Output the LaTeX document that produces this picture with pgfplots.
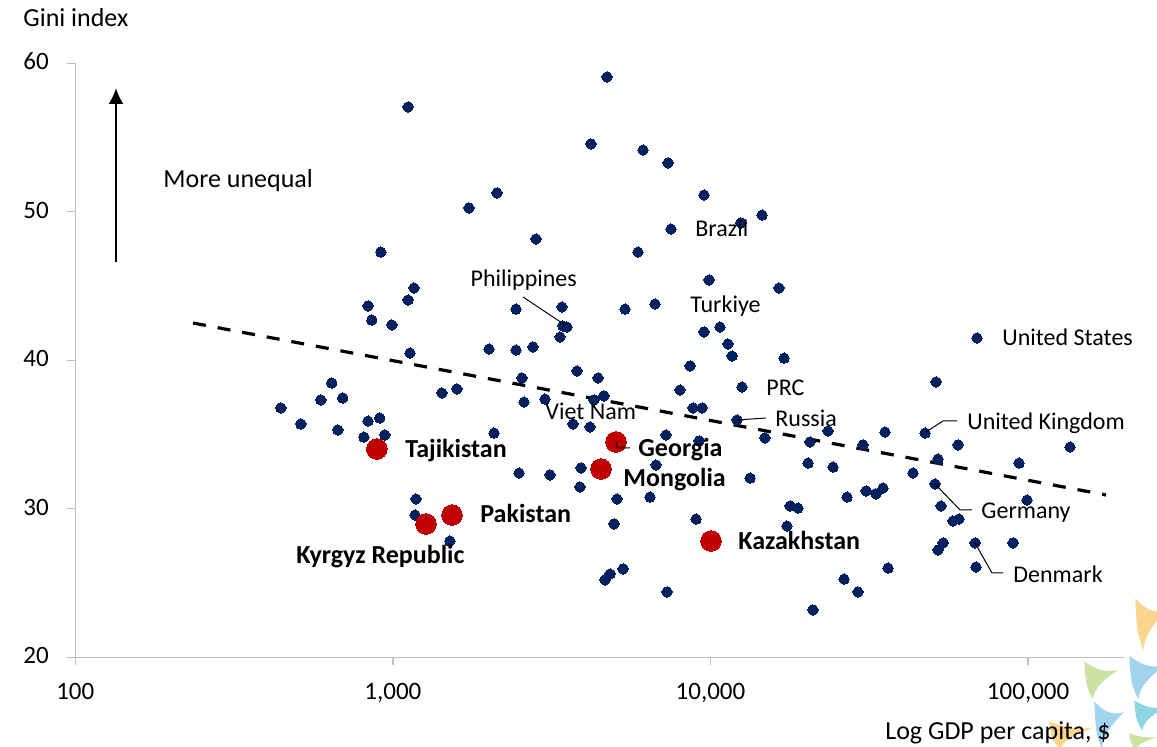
\documentclass[border=0pt]{standalone}
\usepackage{fontspec}
\setmainfont{Carlito}
\usepackage{pgfplots}
\pgfplotsset{compat=1.18}
\usetikzlibrary{arrows.meta}

\definecolor{dotblue}{HTML}{002060}
\definecolor{dotred}{HTML}{C00000}
\definecolor{axisgray}{HTML}{BFBFBF}
\definecolor{leafor}{HTML}{F9D58E}
\definecolor{leafbl}{HTML}{A3D4EF}
\definecolor{leafgr}{HTML}{CBE2A3}
\definecolor{leafcy}{HTML}{8ED5E2}

\tikzset{
  lab/.style={font=\fontsize{12}{14}\selectfont, inner sep=0pt, text height=0.64em, text depth=0pt, anchor=west},
  blab/.style={font=\fontsize{13}{15}\selectfont\bfseries, inner sep=0pt, text height=0.64em, text depth=0pt, anchor=west},
  lead/.style={draw=black, line width=0.5pt},
  leaf/.pic={\fill (0,1) .. controls (0.35,0.75) and (0.7,0.7) .. (1,0.78)
               .. controls (0.55,0.5) and (0.3,0.3) .. (0.25,0)
               .. controls (0.05,0.35) .. (0,1) -- cycle;}
}

\begin{document}
\begin{tikzpicture}
\useasboundingbox (-37.65pt,-44.85pt) rectangle (540.85pt,328.65pt);

% emblem in the corner, behind everything else
\fill[leafor] (530pt,3.5pt) pic[xscale=16pt/1cm, yscale=26pt/1cm] {leaf};
\fill[leafbl] (527pt,-21pt) pic[xscale=18pt/1cm, yscale=22pt/1cm] {leaf};
\fill[leafgr] (504.5pt,-21pt) pic[xscale=17pt/1cm, yscale=19pt/1cm] {leaf};
\fill[leafcy] (529.5pt,-36.5pt) pic[xscale=16pt/1cm, yscale=15pt/1cm] {leaf};
\fill[leafbl] (509.5pt,-46pt) pic[xscale=15pt/1cm, yscale=24pt/1cm] {leaf};
\fill[leafor] (487pt,-46pt) pic[xscale=22pt/1cm, yscale=14pt/1cm] {leaf};
\fill[leafgr] (527pt,-46pt) pic[xscale=14pt/1cm, yscale=8pt/1cm] {leaf};

\begin{axis}[
  at={(0pt,0pt)}, anchor=south west,
  scale only axis, width=524.2pt, height=297pt,
  xmode=log, xmin=100, xmax=200000, ymin=20, ymax=60,
  axis lines*=left,
  axis line style={draw=axisgray, line width=0.7pt},
  xtick={100,1000,10000,100000},
  xticklabels={100,{1,000},{10,000},{100,000}},
  ytick={20,30,40,50,60},
  yticklabels={20,30,40,50,60},
  minor tick num=0, xminorticks=false, yminorticks=false,
  tick align=outside, major tick length=4pt,
  tick style={draw=axisgray, line width=0.7pt},
  /pgf/number format/assume math mode=true,
  tick label style={font=\fontsize{12.5}{15}\selectfont, inner sep=0pt, text height=0.63em, text depth=0pt},
  yticklabel style={anchor=east, xshift=-9.15pt},
  xticklabel style={anchor=north, yshift=-10.8pt},
  clip=false,
]
% trend line
\addplot[black, line width=1.6pt, dash pattern=on 6.5pt off 6pt] coordinates {(234.8,42.51) (175900,30.93)};

% economies: GDP per capita ($), Gini index
\addplot[only marks, mark=*, mark size=2.6pt, color=dotblue, mark options={line width=0pt, draw=dotblue, fill=dotblue}] table {
x y
444 36.79
513 35.71
593 37.33
642 38.47
695 37.46
671 35.31
835 35.91
909 36.11
810 34.83
943 34.97
835 43.66
858 42.71
993 42.38
1132 40.49
1116 44.06
1165 44.87
1116 57.06
1427 37.80
1591 38.07
1182 30.66
1174 29.58
1512 27.83
916 47.29
2127 51.27
1736 50.26
2822 48.17
2441 43.45
3408 43.59
3430 42.31
3533 42.24
3358 41.57
2007 40.76
2441 40.69
2761 40.90
3799 39.28
4424 38.81
2549 38.81
2587 37.19
3012 37.39
3691 35.71
4174 35.51
4298 37.33
4619 37.60
2081 35.10
7243 34.97
9201 34.57
8017 38.00
8808 36.79
9404 36.79
12120 35.98
12566 38.20
14840 34.77
20570 34.50
23440 35.24
30210 34.30
35430 35.17
47360 35.10
60160 34.30
135500 34.16
51290 38.54
69050 41.50
20280 33.08
24310 32.81
13320 32.07
43410 32.41
52040 33.35
93620 33.08
3911 32.75
6735 32.95
2495 32.41
3123 32.28
3882 31.47
5077 30.66
6449 30.79
26910 30.79
30880 31.20
33190 31.00
34920 31.40
17800 30.19
18860 30.05
4968 28.98
9003 29.31
17410 28.84
50920 31.67
53180 30.19
99200 30.59
58000 29.18
60590 29.31
53970 27.70
52040 27.23
68060 27.70
89630 27.70
68550 26.08
36220 26.01
26330 25.27
29130 24.40
21020 23.19
5303 25.95
4827 25.61
4653 25.21
7295 24.40
4722 59.08
4204 54.57
6131 54.16
7349 53.29
9539 51.13
14530 49.78
12470 49.25
7510 48.84
5912 47.29
9892 45.41
16430 44.87
5380 43.45
6687 43.79
10710 42.24
9539 41.91
11350 41.10
11690 40.29
17040 40.15
8620 39.62
};

% Central Asian and neighbouring economies
\addplot[only marks, mark=*, mark size=5.15pt, color=dotred, mark options={line width=0pt, draw=dotred, fill=dotred}] coordinates {
(890,34.03) (1271,28.98) (1535,29.58) (5041,34.50) (4521,32.68) (10040,27.83)
};
\end{axis}

% titles
\node[font=\fontsize{13}{15}\selectfont, inner sep=0pt, text height=0.64em, text depth=0pt, anchor=west] at (-26.15pt,318.65pt) {Gini index};
\node[font=\fontsize{13}{15}\selectfont, inner sep=0pt, text height=0.64em, text depth=0pt, anchor=east] at (517.85pt,-37.85pt) {Log GDP per capita, \$};

% direction hint
\draw[-{Latex[length=8pt,width=7.5pt]}, line width=1.1pt] (20.35pt,197.65pt) -- (20.35pt,284.65pt);
\node[font=\fontsize{13}{15}\selectfont, inner sep=0pt, text height=0.64em, text depth=0pt, anchor=west] at (43.85pt,238.15pt) {More unequal};

% country labels
\node[lab] at (197.5pt,188.65pt) {Philippines};
\draw[lead] (223.85pt,180.15pt) -- (244.85pt,166.15pt);
\node[lab] at (309.85pt,213.65pt) {Brazil};
\node[lab] at (307.35pt,175.65pt) {Turkiye};
\node[lab] at (345.35pt,134.15pt) {PRC};
\node[lab] at (349.85pt,118.65pt) {Russia};
\draw[lead] (330.85pt,118.65pt) -- (345.35pt,119.65pt);
\node[lab] at (234.85pt,122.15pt) {Viet Nam};
\node[lab] at (463.35pt,159.15pt) {United States};
\node[lab] at (445.85pt,117.15pt) {United Kingdom};
\draw[lead] (425.35pt,112.65pt) -- (433.85pt,118.15pt) -- (440.85pt,118.15pt);
\node[lab] at (452.85pt,72.65pt) {Germany};
\draw[lead] (429.85pt,86.65pt) -- (442.35pt,73.65pt) -- (448.35pt,73.65pt);
\node[lab] at (468.85pt,40.65pt) {Denmark};
\draw[lead] (449.85pt,57.15pt) -- (458.35pt,42.15pt) -- (463.85pt,42.15pt);

\node[blab] at (164.85pt,103.15pt) {Tajikistan};
\node[blab] at (202.35pt,70.65pt) {Pakistan};
\node[blab] at (110.35pt,50.15pt) {Kyrgyz Republic};
\node[blab] at (281.35pt,103.65pt) {Georgia};
\draw[lead] (270.35pt,107.65pt) -- (270.85pt,104.65pt) -- (277.35pt,104.65pt);
\node[blab] at (273.85pt,88.65pt) {Mongolia};
\node[blab] at (331.35pt,57.15pt) {Kazakhstan};
\end{tikzpicture}
\end{document}
